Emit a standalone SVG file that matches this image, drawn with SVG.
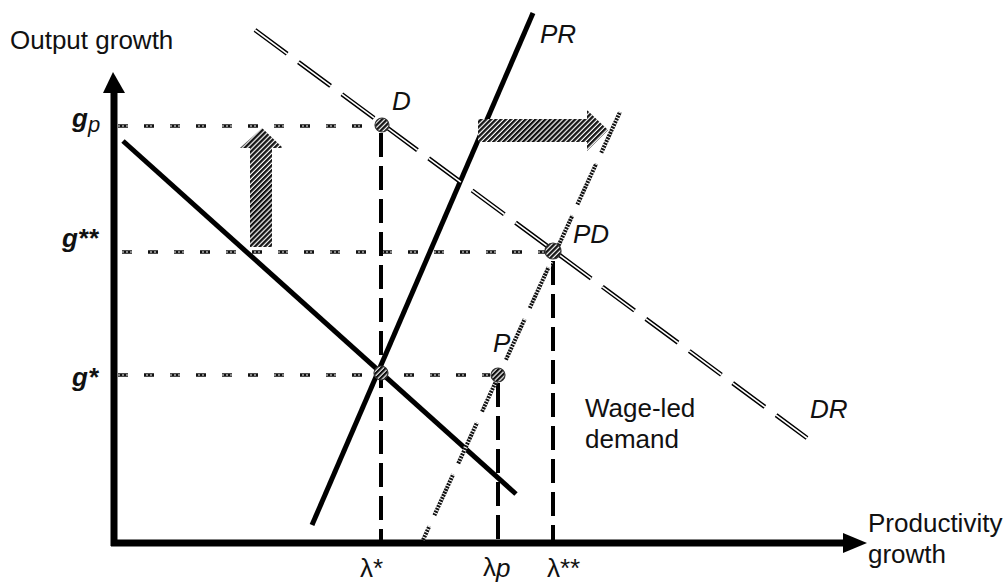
<svg xmlns="http://www.w3.org/2000/svg" width="1003" height="584" viewBox="0 0 1003 584">
<defs>
<pattern id="hatch" width="3.5" height="3.5" patternUnits="userSpaceOnUse" patternTransform="rotate(45)">
<rect width="3.5" height="3.5" fill="#fff"/>
<rect width="2.3" height="3.5" fill="#111"/>
</pattern>
<style>
.lbl{font-family:"Liberation Sans",Arial,sans-serif;font-size:26px;fill:#111}
.it{font-style:italic}
.g{font-family:"Liberation Sans",Arial,sans-serif;font-size:26px;font-weight:bold;font-style:italic;fill:#111}
.sub{font-weight:normal;font-size:22px}
.axis{stroke:#000;stroke-width:7;fill:none}
.solid{stroke:#000;stroke-width:5;fill:none;stroke-linecap:butt}
.vdash{stroke:#000;stroke-width:4;stroke-dasharray:24 9;fill:none}
.hdash{stroke:#111;stroke-width:3.5;stroke-dasharray:10 16;fill:none}
.hdash2{stroke:#fff;stroke-width:1.2;stroke-dasharray:2 2;fill:none}
.drb{stroke:#000;stroke-width:4.5;stroke-dasharray:40 14;fill:none}
.drw{stroke:#fff;stroke-width:1.6;stroke-dasharray:40 14;fill:none}
.pb{stroke:#111;stroke-width:4;stroke-dasharray:45 12;fill:none}
.pw{stroke:#fff;stroke-width:4.2;stroke-dasharray:1 2;fill:none}
.pt{fill:url(#hatch);stroke:#333;stroke-width:1.2}
.bigarrow{fill:url(#hatch);stroke:none}
</style>
</defs>
<rect width="1003" height="584" fill="#fff"/>

<g id="axes">
<line class="axis" x1="114" y1="546" x2="114" y2="90"/>
<polygon points="103,93 113,72 125,93" fill="#000"/>
<line class="axis" x1="111" y1="543" x2="846" y2="543"/>
<polygon points="843,533 867,543 843,553" fill="#000"/>
<text class="lbl" x="10" y="49">Output growth</text>
<text class="lbl" x="868" y="532">Productivity</text>
<text class="lbl" x="868" y="563">growth</text>
</g>

<g id="connectors">
<line class="hdash" x1="118" y1="126" x2="373" y2="126"/>
<line class="hdash2" x1="118" y1="126" x2="373" y2="126"/>
<line class="hdash" x1="122" y1="252" x2="545" y2="252"/>
<line class="hdash2" x1="122" y1="252" x2="545" y2="252"/>
<line class="hdash" x1="118" y1="375" x2="490" y2="375"/>
<line class="hdash2" x1="118" y1="375" x2="490" y2="375"/>
<line class="vdash" x1="381" y1="133" x2="381" y2="540"/>
<line class="vdash" x1="498" y1="383" x2="498" y2="540"/>
<line class="vdash" x1="553" y1="261" x2="553" y2="540"/>
</g>

<g id="curve-demand">
<line class="solid" x1="123" y1="141" x2="516" y2="494"/>
</g>
<g id="curve-PR">
<line class="solid" x1="312" y1="525" x2="533" y2="13"/>
<text class="lbl it" x="540" y="43" font-size="24">PR</text>
</g>
<g id="curve-DR">
<line class="drb" x1="255" y1="30" x2="807" y2="438"/>
<line class="drw" x1="255" y1="30" x2="807" y2="438"/>
<text class="lbl it" x="810" y="418" font-size="24">DR</text>
</g>
<g id="curve-PR-shifted">
<line class="pb" x1="620" y1="112" x2="423" y2="540"/>
<line class="pw" x1="620" y1="112" x2="423" y2="540"/>
</g>

<g id="arrow-up">
<polygon class="bigarrow" points="250,247 272,247 272,148 283,148 262,128 240,148 250,148"/>
</g>
<g id="arrow-right">
<polygon class="bigarrow" points="478,119 587,119 587,110 608,130 587,151 587,142 478,142"/>
</g>

<g id="point-D">
<circle class="pt" cx="382" cy="125" r="7"/>
<text class="lbl it" x="392" y="110" font-size="24">D</text>
</g>
<g id="point-PD">
<circle class="pt" cx="553" cy="251" r="8"/>
<text class="lbl it" x="573" y="243" font-size="24">PD</text>
</g>
<g id="point-E">
<circle class="pt" cx="381" cy="373" r="7"/>
</g>
<g id="point-P">
<circle class="pt" cx="498" cy="375" r="7"/>
<text class="lbl it" x="493" y="352" font-size="24">P</text>
</g>

<g id="y-labels">
<text class="g" x="72" y="127">g<tspan class="sub" dy="5">p</tspan></text>
<text class="g" x="98" y="247" text-anchor="end">g**</text>
<text class="g" x="98" y="386" text-anchor="end">g*</text>
</g>

<g id="x-labels">
<text class="lbl" x="360" y="577" font-size="22">λ*</text>
<text class="lbl" x="483" y="576" font-size="22">λ<tspan class="it" dy="1">p</tspan></text>
<text class="lbl" x="547" y="577" font-size="22">λ**</text>
</g>

<g id="note">
<text class="lbl" x="585" y="417">Wage-led</text>
<text class="lbl" x="585" y="448">demand</text>
</g>
</svg>
